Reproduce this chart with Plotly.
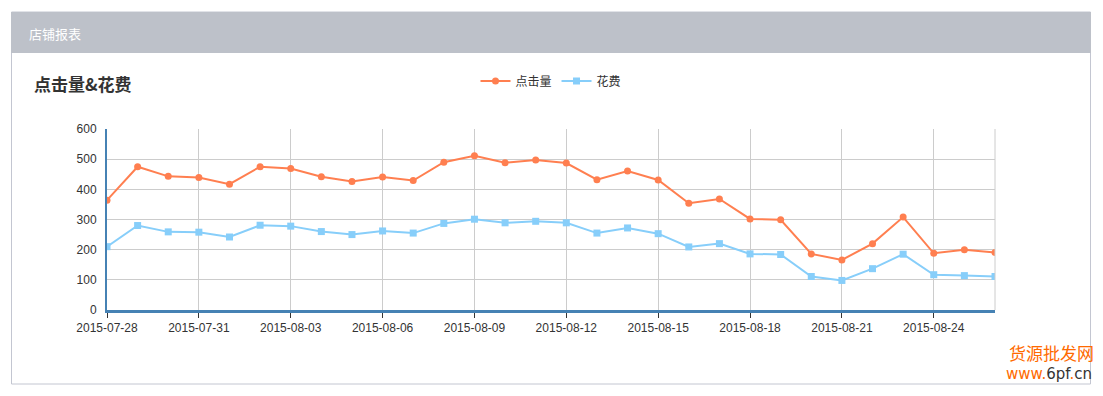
import plotly.graph_objects as go
import pandas as pd

dates = pd.date_range("2015-07-28", "2015-08-26", freq="D").strftime("%Y-%m-%d").tolist()
clicks = [364, 475, 443, 439, 417, 475, 469, 442, 426, 441,
          429, 490, 511, 488, 497, 487, 432, 461, 431, 354,
          368, 302, 299, 186, 166, 220, 308, 188, 200, 191]
cost = [210, 280, 259, 258, 242, 281, 278, 260, 250, 262,
        255, 287, 301, 289, 294, 289, 255, 272, 253, 209,
        220, 186, 184, 111, 98, 137, 185, 117, 114, 111]
series_names = ["点击量", "花费"]
panel_title = "店铺报表"
chart_title = "点击量&花费"

W, H = 1103, 396
L, R, T, B = 107, 995, 129, 310
pw, ph = R - L, B - T


def px(x):
    return (x - L) / pw


def py(y):
    return (B - y) / ph


fig = go.Figure()
fig.add_trace(go.Scatter(
    x=dates, y=clicks, name=series_names[0], mode="lines+markers",
    line=dict(color="#ff7f50", width=2),
    marker=dict(symbol="circle", size=7, color="#ff7f50")))
fig.add_trace(go.Scatter(
    x=dates, y=cost, name=series_names[1], mode="lines+markers",
    line=dict(color="#87cefa", width=2),
    marker=dict(symbol="square", size=7, color="#87cefa")))

shapes = [
    # panel border
    dict(type="rect", xref="paper", yref="paper", x0=px(11.5), x1=px(1090.5),
         y0=py(384), y1=py(12), line=dict(color="#c3c6d1", width=1),
         fillcolor="rgba(0,0,0,0)", layer="below"),
    # header
    dict(type="rect", xref="paper", yref="paper", x0=px(11), x1=px(1091),
         y0=py(53), y1=py(12), line=dict(width=0), fillcolor="#bdc1c9",
         layer="below"),
    # right frame
    dict(type="line", xref="paper", yref="paper", x0=1, x1=1, y0=0, y1=1,
         line=dict(color="#cccccc", width=1)),
]

annotations = [
    dict(text=panel_title, xref="paper", yref="paper", x=px(27), y=py(33),
         xanchor="left", yanchor="middle", showarrow=False,
         font=dict(family="Noto Sans CJK SC", size=13, color="#ffffff")),
    dict(text="<b>" + chart_title + "</b>", xref="paper", yref="paper", x=px(32), y=py(83),
         xanchor="left", yanchor="middle", showarrow=False,
         font=dict(family="Noto Sans CJK SC", size=17, color="#333333")),
    dict(text="货源批发网", xref="paper", yref="paper", x=px(1096), y=py(352),
         xanchor="right", yanchor="middle", showarrow=False,
         font=dict(family="Noto Sans CJK SC", size=17, color="#ff6a00")),
    dict(text="<span style='color:#ff6a00'>www.</span>6pf<span style='color:#ff6a00'>.</span>cn",
         xref="paper", yref="paper", x=px(1094), y=py(374),
         xanchor="right", yanchor="middle", showarrow=False,
         font=dict(family="DejaVu Sans", size=15, color="#333333")),
]

fig.update_layout(
    width=W, height=H,
    margin=dict(l=L, r=W - R, t=T, b=H - B, pad=0),
    paper_bgcolor="white", plot_bgcolor="white",
    font=dict(family="Liberation Sans, Arial", size=12, color="#333333"),
    showlegend=True,
    legend=dict(orientation="h", x=0.5, xanchor="center", y=py(81), yanchor="middle",
                font=dict(family="Noto Sans CJK SC", size=12, color="#333333"),
                itemwidth=30, bgcolor="rgba(0,0,0,0)"),
    shapes=shapes, annotations=annotations,
)

fig.update_xaxes(
    type="date", range=[dates[0], dates[-1]],
    tickformat="%Y-%m-%d", dtick=3 * 86400000, tick0=dates[0],
    showgrid=True, gridcolor="#cccccc", gridwidth=1,
    showline=True, linecolor="#4682b4", linewidth=3,
    ticks="outside", ticklen=5, tickcolor="#333333", tickwidth=1,
    tickfont=dict(size=12, color="#333333"), zeroline=False, fixedrange=True,
)
fig.update_yaxes(
    range=[0, 600], dtick=100, tick0=0,
    showgrid=True, gridcolor="#cccccc", gridwidth=1,
    showline=True, linecolor="#4682b4", linewidth=2,
    ticks="", ticklabelstandoff=6,
    tickfont=dict(size=12, color="#333333"), zeroline=False, fixedrange=True,
)

fig.write_html(
    "out.html",
    config={"displayModeBar": False},
    post_script="document.body.style.margin='0';document.body.style.overflow='hidden';",
)
